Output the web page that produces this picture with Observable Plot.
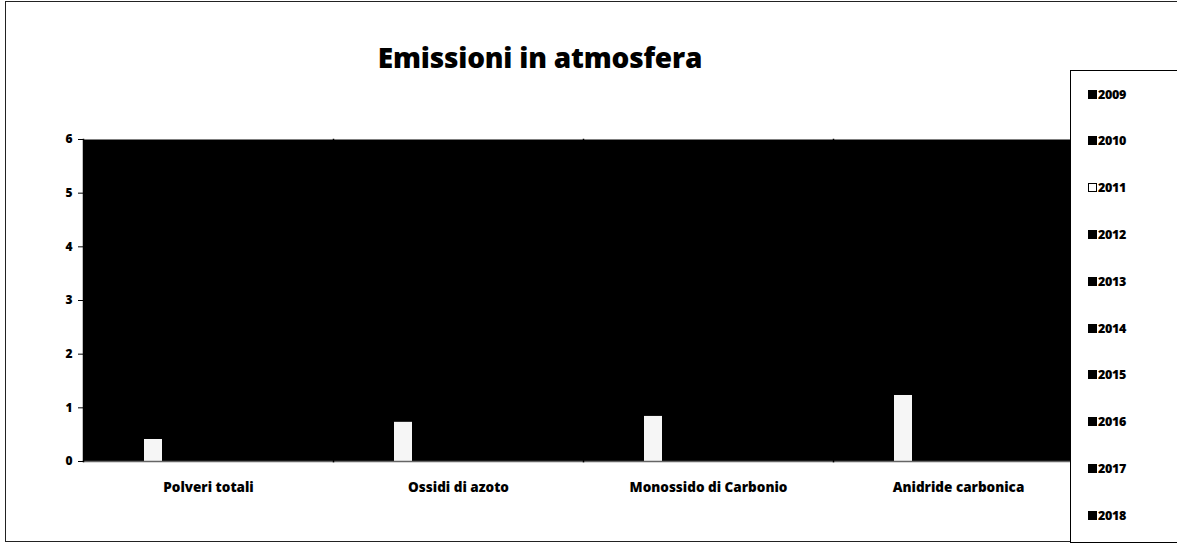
<!DOCTYPE html>
<html>
<head>
<meta charset="utf-8">
<script src="https://cdn.jsdelivr.net/npm/d3@7"></script>
<script src="https://cdn.jsdelivr.net/npm/@observablehq/plot@0.6"></script>
<style>
  html, body { margin: 0; padding: 0; background: #fff; }
  #wrap { position: relative; width: 1177px; height: 554px; overflow: hidden; font-family: "Open Sans", Lato, sans-serif; }
  #border { position: absolute; left: 5px; top: 1px; width: 1300px; height: 541px; border: 1.2px solid #222; box-sizing: border-box; }
  #title { position: absolute; left: 0; width: 1080px; top: 41px; text-align: center; font-size: 28px; font-weight: 800; color: #000; line-height: 1.2; letter-spacing: -0.2px; }
  #legend { position: absolute; left: 1070px; top: 70px; width: 130px; height: 473px; border: 1.6px solid #000; background: #fff; box-sizing: border-box; }
  .item { position: absolute; left: 17px; font-size: 12.5px; font-weight: 800; display: flex; align-items: center; height: 14px; letter-spacing: -0.3px; }
  .sw { width: 9px; height: 9px; margin-right: 1px; box-sizing: border-box; }
  #chart { position: absolute; left: 0; top: 0; }
</style>
</head>
<body>
<div id="wrap">
  <div id="border"></div>
  <div id="chart"></div>
  <div id="title">Emissioni in atmosfera</div>
  <div id="legend"></div>
</div>
<script>
const categories = ["Polveri totali", "Ossidi di azoto", "Monossido di Carbonio", "Anidride carbonica"];
const years = ["2009", "2010", "2011", "2012", "2013", "2014", "2015", "2016", "2017", "2018"];
// only the 2011 series is readable in the picture (the others are black on the black plot area)
const values2011 = [0.41, 0.73, 0.84, 1.23];
const yTicks = [0, 1, 2, 3, 4, 5, 6];
const legendFill = {"2011": "#fff"};

const data = categories.map((c, i) => ({category: c, year: "2011", value: values2011[i]}));

const chart = Plot.plot({
  width: 1177,
  height: 554,
  marginLeft: 83,
  marginRight: 94,
  marginTop: 139,
  marginBottom: 93,
  style: {background: "transparent", fontFamily: "'Open Sans', Lato, sans-serif"},
  fx: {domain: categories, padding: 0, label: null},
  x: {domain: years, paddingInner: 0, paddingOuter: 0.68, axis: null},
  y: {domain: [0, 6], label: null},
  marks: [
    Plot.frame({fill: "#000", stroke: "none"}),
    Plot.barY(data, {fx: "category", x: "year", y: "value", fill: "#f6f6f6", insetLeft: 2, insetRight: 2}),
    Plot.frame({anchor: "bottom", stroke: "#666", strokeWidth: 1.5}),
    Plot.frame({anchor: "left", stroke: "#000", strokeWidth: 1.5}),
    Plot.axisY({ticks: yTicks, tickSize: 5, tickPadding: 6, fontSize: 12, fontWeight: 800, tickFormat: d3.format("d"), label: null, stroke: "#000"}),
    Plot.axisFx({anchor: "bottom", tickSize: 0, tickPadding: 21, fontSize: 13.5, fontWeight: 800, label: null, style: {letterSpacing: "-0.3px"}})
  ]
});
document.getElementById("chart").appendChild(chart);

const legend = document.getElementById("legend");
years.forEach((y, i) => {
  const it = document.createElement("div");
  it.className = "item";
  it.style.top = (16 + i * 46.8) + "px";
  const sw = document.createElement("div");
  sw.className = "sw";
  const f = legendFill[y] || "#000";
  sw.style.background = f;
  sw.style.border = "1.5px solid #000";
  it.appendChild(sw);
  const t = document.createElement("span");
  t.textContent = y;
  it.appendChild(t);
  legend.appendChild(it);
});
</script>
</body>
</html>
